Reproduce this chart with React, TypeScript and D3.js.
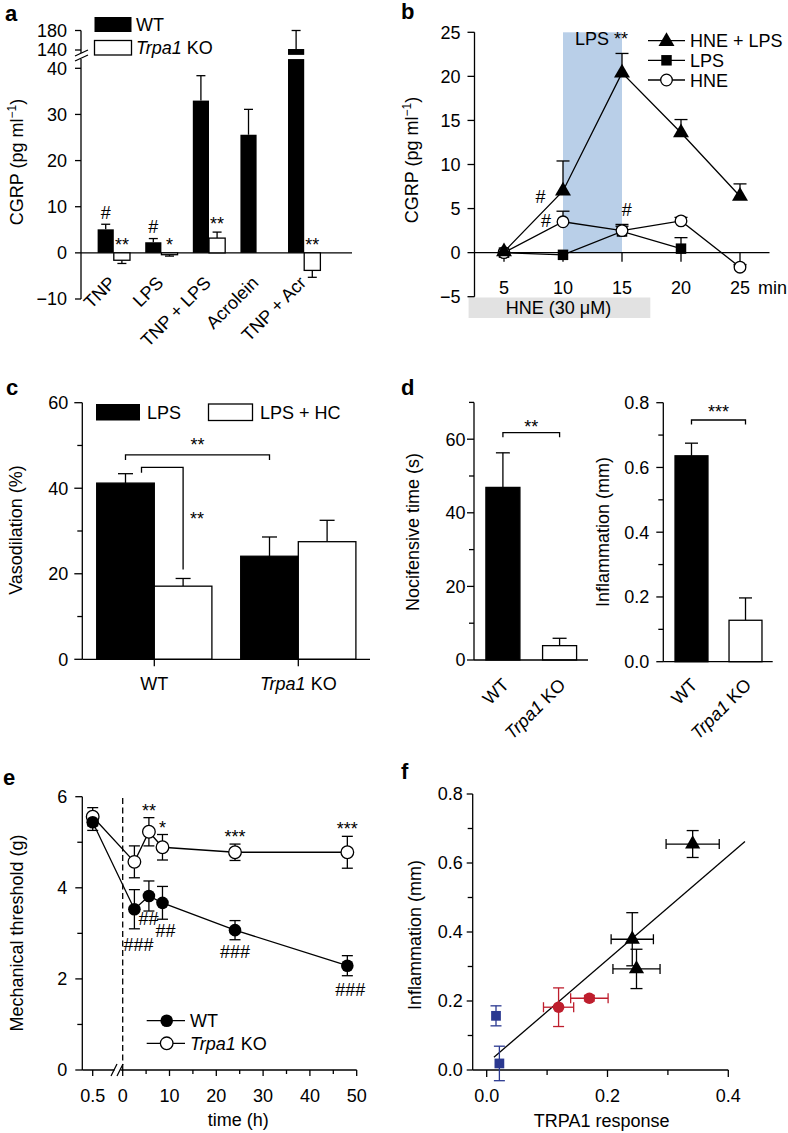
import React from "react";
import * as d3 from "d3";

// ---------------- Panel a data ----------------
const aCategories = ["TNP", "LPS", "TNP + LPS", "Acrolein", "TNP + Acr"];
const aGroups = ["WT", "KO"];
const aWT = [5.1, 2.3, 33.0, 25.6, 142];
const aWTErr = [1.1, 0.8, 5.4, 5.5, 38];
const aKO = [-1.6, -0.4, 3.2, null, -3.8];
const aKOErr = [0.7, 0.3, 1.3, null, 1.5];
const aTicksLow = [-10, 0, 10, 20, 30, 40];
const aTicksHigh = [140, 180];
const aSigWT = ["#", "#", "", "", ""];
const aSigKO = ["**", "*", "**", "", "**"];

// ---------------- Panel b data ----------------
const bTimes = [5, 10, 15, 20, 25];
const bHneLps = [0.1, 7.0, 20.4, 13.6, 6.4];
const bHneLpsErr = [0, 3.4, 2.2, 1.5, 1.4];
const bLpsTimes = [5, 10, 15, 20];
const bLps = [0, -0.25, 2.4, 0.45];
const bLpsErr = [0, 0, 0.6, 1.25];
const bHne = [0, 3.5, 2.5, 3.6, -1.65];
const bHneErr = [0, 1.2, 0.7, 0.4, 0.3];
const bYTicks = [-5, 0, 5, 10, 15, 20, 25];
const bLpsWindow = [10, 15];
const bHneWindow = [2, 17.4];
const bSigT = [8.1, 8.55, 15.4];
const bSigV = [6.4, 3.6, 4.9];
const bSigS = ["#", "#", "#"];

// ---------------- Panel c data ----------------
const cGroups = ["WT", "Trpa1 KO"];
const cSeries = ["LPS", "LPS + HC"];
const cLps = [41.2, 24.1];
const cLpsErr = [2.2, 4.5];
const cHc = [17.1, 27.5];
const cHcErr = [1.8, 5.0];
const cMajor = [0, 20, 40, 60];
const cMinor = [10, 30, 50];

// ---------------- Panel d data ----------------
const dGroups = ["WT", "Trpa1 KO"];
const dNoci = [46.9, 3.9];
const dNociErr = [9.4, 2.0];
const dInfl = [0.636, 0.128];
const dInflErr = [0.039, 0.069];
const dNociMajor = [0, 20, 40, 60];
const dNociMinor = [10, 30, 50, 70];
const dInflMajor = [0, 0.2, 0.4, 0.6, 0.8];
const dInflMinor = [0.1, 0.3, 0.5, 0.7];

// ---------------- Panel e data ----------------
const eTimes = [2.5, 5.6, 8.5, 24, 48];
const eWT = [3.53, 3.82, 3.67, 3.07, 2.29];
const eWTErr = [0.43, 0.33, 0.36, 0.21, 0.22];
const eKO = [4.57, 5.23, 4.89, 4.78, 4.78];
const eKOErr = [0.35, 0.31, 0.28, 0.18, 0.35];
const eWTBase = 5.44;
const eWTBaseErr = 0.18;
const eKOBase = 5.56;
const eKOBaseErr = 0.2;
const eSigKO = ["", "**", "*", "***", "***"];
const eSigWT = ["###", "##", "##", "###", "###"];
const eXMajor = [0, 10, 20, 30, 40, 50];
const eXMinor = [5, 15, 25, 35, 45];
const eYMajor = [0, 2, 4, 6];
const eYMinor = [1, 3, 5];

// ---------------- Panel f data ----------------
const fBlueX = [0.0154, 0.021];
const fBlueY = [0.157, 0.019];
const fBlueYErr = [0.029, 0.05];
const fRedX = [0.119, 0.17];
const fRedXErr = [0.025, 0.031];
const fRedY = [0.182, 0.208];
const fRedYErr = [0.056, 0.008];
const fTriX = [0.241, 0.248, 0.341];
const fTriXErr = [0.035, 0.039, 0.044];
const fTriY = [0.379, 0.293, 0.655];
const fTriYErr = [0.077, 0.057, 0.039];
const fFitX = [0.012, 0.4276];
const fFitY = [0.037, 0.662];
const fYMajor = [0, 0.2, 0.4, 0.6, 0.8];
const fYMinor = [0.1, 0.3, 0.5, 0.7];
const fXMajor = [0, 0.2, 0.4];
const fXMinor = [0.1, 0.3];

// ---------------- style ----------------
const FONT = "'Liberation Sans', Arial, Helvetica, sans-serif";
const FS = 18;
const LW = 1.3;
const BLUE = "#2b3990";
const RED = "#be1e2d";

function L({ x1, y1, x2, y2, w = LW, c = "#000", dash }: any) {
  return <line x1={x1} y1={y1} x2={x2} y2={y2} stroke={c} strokeWidth={w} strokeDasharray={dash} />;
}

function ErrV({ x, y0, y1, cap = 10, c = "#000" }: any) {
  return (
    <g>
      <L x1={x} y1={y0} x2={x} y2={y1} c={c} />
      <L x1={x - cap / 2} y1={y1} x2={x + cap / 2} y2={y1} c={c} />
    </g>
  );
}
function ErrV2({ x, y0, y1, cap = 10, c = "#000" }: any) {
  return (
    <g>
      <L x1={x} y1={y0} x2={x} y2={y1} c={c} />
      <L x1={x - cap / 2} y1={y1} x2={x + cap / 2} y2={y1} c={c} />
      <L x1={x - cap / 2} y1={y0} x2={x + cap / 2} y2={y0} c={c} />
    </g>
  );
}
function ErrH2({ y, x0, x1, cap = 10, c = "#000" }: any) {
  return (
    <g>
      <L x1={x0} y1={y} x2={x1} y2={y} c={c} />
      <L x1={x0} y1={y - cap / 2} x2={x0} y2={y + cap / 2} c={c} />
      <L x1={x1} y1={y - cap / 2} x2={x1} y2={y + cap / 2} c={c} />
    </g>
  );
}

function YTicks({ x, scale, major, minor = [], fmt, gap = 14, len = 7, mlen = 5 }: any) {
  return (
    <g>
      {major.map((v: number) => (
        <g key={"M" + v}>
          <L x1={x - len} y1={scale(v)} x2={x} y2={scale(v)} />
          <text x={x - gap} y={scale(v) + 6.4} textAnchor="end" fontSize={FS}>
            {fmt(v)}
          </text>
        </g>
      ))}
      {minor.map((v: number) => (
        <L key={"m" + v} x1={x - mlen} y1={scale(v)} x2={x} y2={scale(v)} />
      ))}
    </g>
  );
}

function Sig({ x, cy, s, size = 18 }: any) {
  if (!s) return null;
  const off = s.includes("*") ? 10 : 6.5;
  return (
    <text x={x} y={cy + off} textAnchor="middle" fontSize={size}>
      {s}
    </text>
  );
}

function YLabel({ x, y, children }: any) {
  return (
    <text transform={`translate(${x},${y}) rotate(-90)`} textAnchor="middle" fontSize={FS}>
      {children}
    </text>
  );
}

const fmtMinus = (v: number) => (v < 0 ? "\u2212" + Math.abs(v) : String(v));
const fmt1 = (v: number) => v.toFixed(1);

const tri = (s: number) => d3.symbol().type(d3.symbolTriangle).size(s)() as string;
const sq = (s: number) => d3.symbol().type(d3.symbolSquare).size(s)() as string;

function PanelA() {
  const x = d3.scaleBand().domain(aCategories).range([90, 328]).paddingInner(0.32).paddingOuter(0.16);
  const xi = d3.scaleBand().domain(aGroups).range([0, x.bandwidth()]);
  const yLow = d3.scaleLinear().domain([-10, 40]).range([299, 68.3]);
  const yHigh = d3.scaleLinear().domain([140, 180]).range([50, 30.5]);
  const lowMax = 42;
  const highMin = 130;
  const y = (v: number) => (v <= lowMax ? yLow(v) : yHigh(v));
  const ax = 81;
  const w = xi.bandwidth();
  return (
    <g>
      <text x={5} y={21} fontSize={22} fontWeight="bold">a</text>
      <L x1={ax} y1={yLow(-10)} x2={ax} y2={yLow(lowMax)} />
      <L x1={ax} y1={yHigh(180)} x2={ax} y2={yHigh(134)} />
      <L x1={75} y1={56} x2={88} y2={50} />
      <L x1={75} y1={61} x2={88} y2={55} />
      <YTicks x={ax} scale={yLow} major={aTicksLow} fmt={fmtMinus} gap={14} len={6} />
      <YTicks x={ax} scale={yHigh} major={aTicksHigh} fmt={fmtMinus} gap={14} len={6} />
      <L x1={ax} y1={yLow(0)} x2={352} y2={yLow(0)} />
      {aCategories.map((c, i) => {
        const bx = (x(c) as number) + (xi("WT") as number);
        const v = aWT[i];
        const cx = bx + w / 2;
        const top = v + aWTErr[i];
        return (
          <g key={"wt" + c}>
            <ErrV x={cx} y0={y(v)} y1={y(top)} cap={9} />
            {v <= lowMax ? (
              <rect x={bx} y={y(Math.max(v, 0))} width={w} height={Math.abs(y(v) - y(0))} fill="#000" />
            ) : (
              <g>
                <rect x={bx} y={yLow(lowMax)} width={w} height={yLow(0) - yLow(lowMax)} fill="#000" />
                <rect x={bx} y={yHigh(v)} width={w} height={yHigh(highMin) - yHigh(v)} fill="#000" />
              </g>
            )}
            <Sig x={cx} cy={y(top) - 12} s={aSigWT[i]} />
          </g>
        );
      })}
      {aCategories.map((c, i) => {
        const v = aKO[i];
        if (v === null) return null;
        const e = aKOErr[i] as number;
        const bx = (x(c) as number) + (xi("KO") as number);
        const cx = bx + w / 2;
        const end = v < 0 ? v - e : v + e;
        const sigY = v < 0 ? y(0) : y(end);
        return (
          <g key={"ko" + c}>
            <ErrV x={cx} y0={y(v)} y1={y(end)} cap={9} />
            <rect x={bx} y={y(Math.max(v, 0))} width={w} height={Math.abs(y(v) - y(0))} fill="#fff" stroke="#000" strokeWidth={LW} />
            <Sig x={cx} cy={sigY - 12} s={aSigKO[i]} />
          </g>
        );
      })}
      {aCategories.map((c) => (
        <text key={"lbl" + c} transform={`translate(${(x(c) as number) + x.bandwidth() / 2 + 3},284) rotate(-45)`} textAnchor="end" fontSize={FS}>
          {c}
        </text>
      ))}
      <YLabel x={23} y={162}>
        CGRP (pg ml<tspan fontSize={12} dy={-7}>{"\u22121"}</tspan>
        <tspan dy={7}>)</tspan>
      </YLabel>
      <rect x={94.5} y={17} width={37} height={15} fill="#000" />
      <text x={136} y={31} fontSize={FS}>WT</text>
      <rect x={94.5} y={40.5} width={37} height={14.5} fill="#fff" stroke="#000" strokeWidth={LW} />
      <text x={136} y={54} fontSize={FS}>
        <tspan fontStyle="italic">Trpa1</tspan> KO
      </text>
    </g>
  );
}

function PanelB() {
  const x = d3.scaleLinear().domain([5, 25]).range([504, 740]);
  const y = d3.scaleLinear().domain([-5, 25]).range([296.7, 32.3]);
  const ax = x(2.5);
  const line = d3.line<[number, number]>().x((d) => x(d[0])).y((d) => y(d[1]));
  const hl = bTimes.map((t, i) => [t, bHneLps[i]] as [number, number]);
  const lp = bLpsTimes.map((t, i) => [t, bLps[i]] as [number, number]);
  const hn = bTimes.map((t, i) => [t, bHne[i]] as [number, number]);
  const triP = tri(110);
  const sqP = sq(110);
  return (
    <g>
      <text x={401} y={18.5} fontSize={22} fontWeight="bold">b</text>
      <rect x={x(bLpsWindow[0])} y={y(25)} width={x(bLpsWindow[1]) - x(bLpsWindow[0])} height={y(0) - y(25)} fill="#b9cfe8" />
      <rect x={x(bHneWindow[0])} y={297.5} width={x(bHneWindow[1]) - x(bHneWindow[0])} height={20.5} fill="#e2e2e2" />
      <text x={(x(bHneWindow[0]) + x(bHneWindow[1])) / 2 - 1} y={313.5} textAnchor="middle" fontSize={FS}>
        HNE (30 {"\u03bc"}M)
      </text>
      <L x1={ax} y1={y(-5)} x2={ax} y2={y(25)} />
      <YTicks x={ax} scale={y} major={bYTicks} fmt={fmtMinus} gap={14} len={7} />
      <L x1={ax} y1={y(0)} x2={x(27.5)} y2={y(0)} />
      {bTimes.map((t) => (
        <g key={"bt" + t}>
          <L x1={x(t)} y1={y(0)} x2={x(t)} y2={y(0) + 9} />
          <text x={x(t)} y={293.5} textAnchor="middle" fontSize={FS}>{t}</text>
        </g>
      ))}
      <text x={758} y={293.5} fontSize={FS}>min</text>
      <text x={575} y={45} fontSize={FS}>LPS **</text>
      <path d={line(lp) as string} fill="none" stroke="#000" strokeWidth={LW} />
      <path d={line(hn) as string} fill="none" stroke="#000" strokeWidth={LW} />
      <path d={line(hl) as string} fill="none" stroke="#000" strokeWidth={LW} />
      {bTimes.map((t, i) =>
        bHneLpsErr[i] > 0 ? <ErrV key={"e1" + t} x={x(t)} y0={y(bHneLps[i])} y1={y(bHneLps[i] + bHneLpsErr[i])} cap={13} /> : null
      )}
      {bLpsTimes.map((t, i) =>
        bLpsErr[i] > 0 ? <ErrV key={"e2" + t} x={x(t)} y0={y(bLps[i])} y1={y(bLps[i] + bLpsErr[i])} cap={13} /> : null
      )}
      {bTimes.map((t, i) =>
        bHneErr[i] > 0 ? <ErrV key={"e3" + t} x={x(t)} y0={y(bHne[i])} y1={y(bHne[i] + bHneErr[i])} cap={13} /> : null
      )}
      {lp.map((d) => (
        <path key={"sq" + d[0]} d={sqP} transform={`translate(${x(d[0])},${y(d[1])})`} fill="#000" />
      ))}
      {hn.map((d) => (
        <circle key={"ci" + d[0]} cx={x(d[0])} cy={y(d[1])} r={5.8} fill="#fff" stroke="#000" strokeWidth={LW} />
      ))}
      {hl.map((d) => (
        <path key={"tr" + d[0]} d={triP} transform={`translate(${x(d[0])},${y(d[1])})`} fill="#000" />
      ))}
      {bSigT.map((t, i) => (
        <Sig key={"bs" + i} x={x(t)} cy={y(bSigV[i])} s={bSigS[i]} />
      ))}
      <L x1={648} y1={40.7} x2={685} y2={40.7} />
      <path d={triP} transform="translate(666.5,41.5)" fill="#000" />
      <text x={690} y={47} fontSize={FS}>HNE + LPS</text>
      <L x1={648} y1={60.3} x2={685} y2={60.3} />
      <path d={sqP} transform="translate(666.5,60.3)" fill="#000" />
      <text x={690} y={66.7} fontSize={FS}>LPS</text>
      <L x1={648} y1={80} x2={685} y2={80} />
      <circle cx={666.5} cy={80} r={5.8} fill="#fff" stroke="#000" strokeWidth={LW} />
      <text x={690} y={86.5} fontSize={FS}>HNE</text>
      <YLabel x={418} y={160}>
        CGRP (pg ml<tspan fontSize={12} dy={-7}>{"\u22121"}</tspan>
        <tspan dy={7}>)</tspan>
      </YLabel>
    </g>
  );
}

function PanelC() {
  const x = d3.scaleBand().domain(cGroups).range([82.3, 370.3]).paddingInner(0.2).paddingOuter(0.1);
  const xi = d3.scaleBand().domain(cSeries).range([0, x.bandwidth()]);
  const y = d3.scaleLinear().domain([0, 60]).range([659.3, 402.7]);
  const ax = 82.3;
  const w = xi.bandwidth();
  const vals = [cLps, cHc];
  const errs = [cLpsErr, cHcErr];
  const cxOf = (g: string, s: string) => (x(g) as number) + (xi(s) as number) + w / 2;
  const wtL = cxOf("WT", "LPS");
  const wtH = cxOf("WT", "LPS + HC");
  const koL = cxOf("Trpa1 KO", "LPS");
  return (
    <g>
      <text x={6} y={395} fontSize={22} fontWeight="bold">c</text>
      <L x1={ax} y1={y(0)} x2={ax} y2={y(60)} />
      <YTicks x={ax} scale={y} major={cMajor} minor={cMinor} fmt={String} gap={14} len={8} mlen={5} />
      {cGroups.map((g, gi) =>
        cSeries.map((s, si) => {
          const bx = (x(g) as number) + (xi(s) as number);
          const v = vals[si][gi];
          return (
            <g key={g + s}>
              <ErrV x={bx + w / 2} y0={y(v)} y1={y(v + errs[si][gi])} cap={15} />
              <rect x={bx} y={y(v)} width={w} height={y(0) - y(v)} fill={si === 0 ? "#000" : "#fff"} stroke="#000" strokeWidth={LW} />
            </g>
          );
        })
      )}
      <L x1={ax} y1={y(0)} x2={370} y2={y(0)} />
      {cGroups.map((g) => {
        const cx = (x(g) as number) + x.bandwidth() / 2;
        return (
          <g key={"ct" + g}>
            <L x1={cx} y1={y(0)} x2={cx} y2={y(0) + 7} />
            <text x={cx} y={690} textAnchor="middle" fontSize={FS}>
              {g === "WT" ? "WT" : (<><tspan fontStyle="italic">Trpa1</tspan> KO</>)}
            </text>
          </g>
        );
      })}
      <path d={`M${wtL},${y(46.6)}V${y(47.8)}H${koL}V${y(46.6)}`} fill="none" stroke="#000" strokeWidth={LW} />
      <Sig x={(wtL + koL) / 2} cy={441} s="**" />
      <path d={`M${wtL + 16},${y(43.6)}V${y(44.9)}H${wtH}V${y(21.0)}`} fill="none" stroke="#000" strokeWidth={LW} />
      <Sig x={wtH + 14} cy={515} s="**" />
      <rect x={96} y={404} width={44} height={16.5} fill="#000" />
      <text x={147} y={418.5} fontSize={FS}>LPS</text>
      <rect x={208.5} y={404} width={44} height={16.5} fill="#fff" stroke="#000" strokeWidth={LW} />
      <text x={260} y={418.5} fontSize={FS}>LPS + HC</text>
      <YLabel x={22} y={530}>Vasodilation (%)</YLabel>
    </g>
  );
}

function PanelD() {
  const x1 = d3.scaleBand().domain(dGroups).range([474, 588.5]).paddingInner(0.4).paddingOuter(0.21);
  const y1 = d3.scaleLinear().domain([0, 70]).range([660, 402.4]);
  const x2 = d3.scaleBand().domain(dGroups).range([663.3, 773.7]).paddingInner(0.39).paddingOuter(0.217);
  const y2 = d3.scaleLinear().domain([0, 0.8]).range([661.7, 402.7]);
  const sub = (x: any, y: any, ax: number, vals: number[], errs: number[], major: number[], minor: number[], fmt: any, gap: number, right: number, brY: number, sig: string, sigY: number, cap: number) => {
    const w = x.bandwidth();
    const c0 = x(dGroups[0]) + w / 2;
    const c1 = x(dGroups[1]) + w / 2;
    return (
      <g>
        <L x1={ax} y1={y(0)} x2={ax} y2={y.range()[1]} />
        <YTicks x={ax} scale={y} major={major} minor={minor} fmt={fmt} gap={gap} len={7} mlen={5} />
        {dGroups.map((g, i) => {
          const bx = x(g);
          return (
            <g key={g}>
              <ErrV x={bx + w / 2} y0={y(vals[i])} y1={y(vals[i] + errs[i])} cap={cap} />
              <rect x={bx} y={y(vals[i])} width={w} height={y(0) - y(vals[i])} fill={i === 0 ? "#000" : "#fff"} stroke="#000" strokeWidth={LW} />
            </g>
          );
        })}
        <L x1={ax} y1={y(0)} x2={right} y2={y(0)} />
        {dGroups.map((g, i) => (
          <text key={"l" + g} transform={`translate(${x(g) + w / 2 + 7},686) rotate(-45)`} textAnchor="end" fontSize={FS}>
            {i === 0 ? "WT" : (<><tspan fontStyle="italic">Trpa1</tspan> KO</>)}
          </text>
        ))}
        <path d={`M${c0},${brY + 4.5}V${brY}H${c1}V${brY + 4.5}`} fill="none" stroke="#000" strokeWidth={LW} />
        <Sig x={(c0 + c1) / 2} cy={sigY} s={sig} />
      </g>
    );
  };
  return (
    <g>
      <text x={401} y={395} fontSize={22} fontWeight="bold">d</text>
      {sub(x1, y1, 474, dNoci, dNociErr, dNociMajor, dNociMinor, String, 8.5, 588, 432.7, "**", 423, 14)}
      {sub(x2, y2, 663.3, dInfl, dInflErr, dInflMajor, dInflMinor, fmt1, 14, 772.7, 420, "***", 408.3, 13)}
      <YLabel x={419} y={532}>Nocifensive time (s)</YLabel>
      <YLabel x={609} y={532}>Inflammation (mm)</YLabel>
    </g>
  );
}

function PanelE() {
  const x = d3.scaleLinear().domain([0, 50]).range([122.7, 356.7]);
  const y = d3.scaleLinear().domain([0, 6]).range([1070, 796.7]);
  const ax = 82.3;
  const baseX = x(0) - 30;
  const line = d3.line<[number, number]>().x((d) => d[0]).y((d) => y(d[1]));
  const wtPts: [number, number][] = [[baseX, eWTBase], ...eTimes.map((t, i) => [x(t), eWT[i]] as [number, number])];
  const koPts: [number, number][] = [[baseX, eKOBase], ...eTimes.map((t, i) => [x(t), eKO[i]] as [number, number])];
  const wtErr = [eWTBaseErr, ...eWTErr];
  const koErr = [eKOBaseErr, ...eKOErr];
  const r = 6.3;
  // small label nudges (layout only)
  const nudge = [[1, 3], [-3.5, -6], [0, -2], [-3, -1], [0, 1]];
  return (
    <g>
      <text x={3} y={785} fontSize={22} fontWeight="bold">e</text>
      <L x1={ax} y1={y(0)} x2={ax} y2={y(6)} />
      <YTicks x={ax} scale={y} major={eYMajor} minor={eYMinor} fmt={String} gap={15} len={7} mlen={5} />
      <L x1={ax} y1={y(0)} x2={114.5} y2={y(0)} />
      <L x1={120.5} y1={y(0)} x2={356.7} y2={y(0)} />
      <L x1={111} y1={1076} x2={117} y2={1064} />
      <L x1={117} y1={1076} x2={123} y2={1064} />
      <L x1={baseX} y1={y(0)} x2={baseX} y2={y(0) + 6} />
      <text x={baseX} y={1101.5} textAnchor="middle" fontSize={FS}>0.5</text>
      {eXMajor.map((t) => (
        <g key={"et" + t}>
          <L x1={x(t)} y1={y(0)} x2={x(t)} y2={y(0) + 6} />
          <text x={x(t)} y={1101.5} textAnchor="middle" fontSize={FS}>{t}</text>
        </g>
      ))}
      {eXMinor.map((t) => (
        <L key={"em" + t} x1={x(t)} y1={y(0)} x2={x(t)} y2={y(0) + 4} />
      ))}
      <text x={238.3} y={1126} textAnchor="middle" fontSize={FS}>time (h)</text>
      <L x1={x(0)} y1={y(0)} x2={x(0)} y2={y(6)} dash="6,3.5" />
      <path d={line(koPts) as string} fill="none" stroke="#000" strokeWidth={LW} />
      <path d={line(wtPts) as string} fill="none" stroke="#000" strokeWidth={LW} />
      {koPts.map((p, i) => (
        <ErrV2 key={"ke" + i} x={p[0]} y0={y(p[1] - koErr[i])} y1={y(p[1] + koErr[i])} cap={11} />
      ))}
      {wtPts.map((p, i) => (
        <ErrV2 key={"we" + i} x={p[0]} y0={y(p[1] - wtErr[i])} y1={y(p[1] + wtErr[i])} cap={11} />
      ))}
      {koPts.map((p, i) => (
        <circle key={"kc" + i} cx={p[0]} cy={y(p[1])} r={r} fill="#fff" stroke="#000" strokeWidth={LW} />
      ))}
      {wtPts.map((p, i) => (
        <circle key={"wc" + i} cx={p[0]} cy={y(p[1])} r={r} fill="#000" />
      ))}
      {eTimes.map((t, i) => (
        <Sig key={"sk" + i} x={x(t)} cy={y(eKO[i] + eKOErr[i]) - 11} s={eSigKO[i]} />
      ))}
      {eTimes.map((t, i) => (
        <Sig key={"sw" + i} x={x(t) + 3 + nudge[i][0]} cy={y(eWT[i] - eWTErr[i]) + 13 + nudge[i][1]} s={eSigWT[i]} />
      ))}
      <L x1={146.7} y1={1020.7} x2={185} y2={1020.7} />
      <circle cx={166.7} cy={1020.7} r={r} fill="#000" />
      <text x={190} y={1027} fontSize={FS}>WT</text>
      <L x1={146.7} y1={1043.3} x2={185} y2={1043.3} />
      <circle cx={166.7} cy={1043.3} r={r} fill="#fff" stroke="#000" strokeWidth={LW} />
      <text x={190} y={1050} fontSize={FS}>
        <tspan fontStyle="italic">Trpa1</tspan> KO
      </text>
      <YLabel x={23} y={933}>Mechanical threshold (g)</YLabel>
    </g>
  );
}

function PanelF() {
  const x = d3.scaleLinear().domain([0, 0.4]).range([486.7, 728.3]);
  const y = d3.scaleLinear().domain([0, 0.8]).range([1070, 794]);
  const ax = 472.7;
  const triP = tri(100);
  const sqP = sq(95);
  return (
    <g>
      <text x={401} y={779} fontSize={22} fontWeight="bold">f</text>
      <L x1={ax} y1={y(0)} x2={ax} y2={y(0.8)} />
      <YTicks x={ax} scale={y} major={fYMajor} minor={fYMinor} fmt={fmt1} gap={10} len={6} mlen={5} />
      <L x1={ax} y1={y(0)} x2={x(0.4)} y2={y(0)} />
      {fXMajor.map((v) => (
        <g key={"fx" + v}>
          <L x1={x(v)} y1={y(0)} x2={x(v)} y2={y(0) + 7} />
          <text x={x(v)} y={1101.5} textAnchor="middle" fontSize={FS}>{v.toFixed(1)}</text>
        </g>
      ))}
      {fXMinor.map((v) => (
        <L key={"fm" + v} x1={x(v)} y1={y(0)} x2={x(v)} y2={y(0) + 5} />
      ))}
      <text x={601.7} y={1127} textAnchor="middle" fontSize={FS}>TRPA1 response</text>
      <YLabel x={421} y={935}>Inflammation (mm)</YLabel>
      <L x1={x(fFitX[0])} y1={y(fFitY[0])} x2={x(fFitX[1])} y2={y(fFitY[1])} />
      {fBlueX.map((v, i) => (
        <g key={"fb" + i}>
          <ErrV2 x={x(v)} y0={y(fBlueY[i] - fBlueYErr[i])} y1={y(fBlueY[i] + fBlueYErr[i])} cap={11} c={BLUE} />
          <path d={sqP} transform={`translate(${x(v)},${y(fBlueY[i])})`} fill={BLUE} />
        </g>
      ))}
      {fRedX.map((v, i) => (
        <g key={"fr" + i}>
          <ErrV2 x={x(v)} y0={y(fRedY[i] - fRedYErr[i])} y1={y(fRedY[i] + fRedYErr[i])} cap={11} c={RED} />
          <ErrH2 y={y(fRedY[i])} x0={x(v - fRedXErr[i])} x1={x(v + fRedXErr[i])} cap={10} c={RED} />
          <circle cx={x(v)} cy={y(fRedY[i])} r={5.8} fill={RED} />
        </g>
      ))}
      {fTriX.map((v, i) => (
        <g key={"ft" + i}>
          <ErrV2 x={x(v)} y0={y(fTriY[i] - fTriYErr[i])} y1={y(fTriY[i] + fTriYErr[i])} cap={12} />
          <ErrH2 y={y(fTriY[i])} x0={x(v - fTriXErr[i])} x1={x(v + fTriXErr[i])} cap={10} />
          <path d={triP} transform={`translate(${x(v)},${y(fTriY[i])})`} fill="#000" />
        </g>
      ))}
    </g>
  );
}

export default function App() {
  return (
    <svg
      width={788}
      height={1133}
      viewBox="0 0 788 1133"
      style={{ position: "absolute", left: 0, top: 0, background: "#fff", display: "block" }}
      fontFamily={FONT}
      fill="#000"
    >
      <rect x={0} y={0} width={788} height={1133} fill="#fff" />
      <PanelA />
      <PanelB />
      <PanelC />
      <PanelD />
      <PanelE />
      <PanelF />
    </svg>
  );
}
